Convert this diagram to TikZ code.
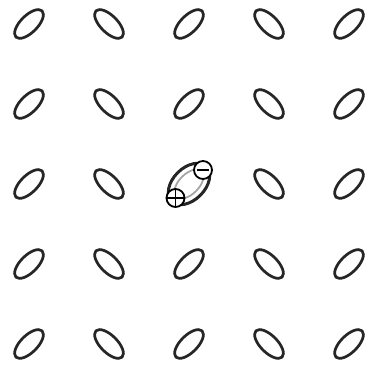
\documentclass[tikz,border=0pt]{standalone}
\usepackage{tikz}
\usetikzlibrary{positioning}

\begin{document}
\begin{tikzpicture}[x=1pt, y=1pt,
    dipole/.style={line width=2.7pt, black!85},
    charge/.style={draw, circle, fill=white, line width=1.8pt, minimum size=18pt, inner sep=0pt}]
        \useasboundingbox (0,0) rectangle (370,366);
        % grid of tilted ellipses, columns alternate their tilt
        \foreach \i in {0,...,4} {
          \foreach \j in {0,...,4} {
            \pgfmathsetmacro{\ang}{mod(\i,2)==0 ? 45 : -45}
            \ifnum\i=2 \ifnum\j=2 \else
              \draw[dipole, rotate around={\ang:(29+80*\i,22+80*\j)}] (29+80*\i,22+80*\j) ellipse (18.5 and 8.5);
            \fi \else
              \draw[dipole, rotate around={\ang:(29+80*\i,22+80*\j)}] (29+80*\i,22+80*\j) ellipse (18.5 and 8.5);
            \fi
          }
        }
        % centre ellipse with its two charges
        \draw[black!35, line width=1.8pt, rotate around={45:(189,182)}] (189,182) ellipse (18 and 10);
        \draw[dipole, line width=3pt, rotate around={45:(189,182)}] (189,182) ellipse (24.5 and 16);
        \node[charge] (plus) at (175.5,168) {};
        \node[charge] (minus) at (203,196) {};
        \draw[line width=1.5pt] (plus.west) -- (plus.east) (plus.north) -- (plus.south);
        \draw[line width=1.8pt] ([xshift=4pt]minus.west) -- ([xshift=-4pt]minus.east);
      \end{tikzpicture}
\end{document}
